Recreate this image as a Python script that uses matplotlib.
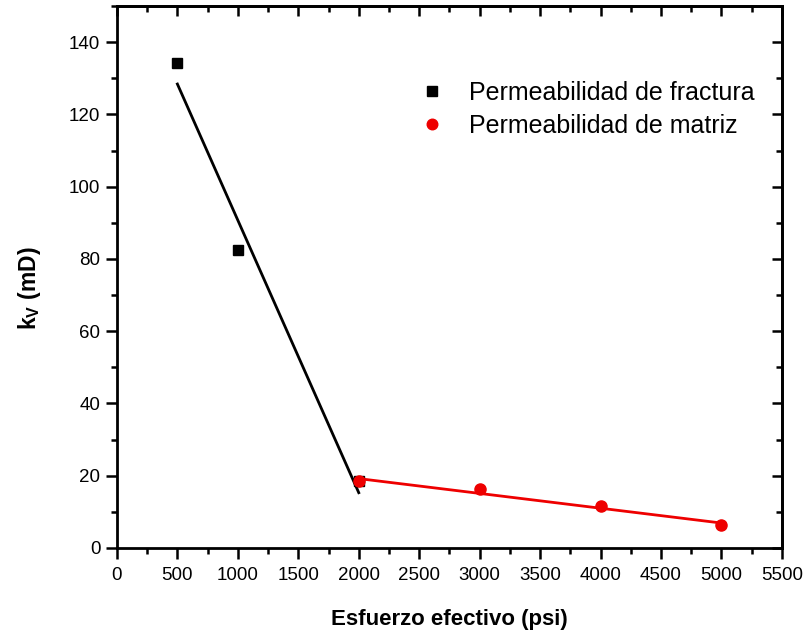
import numpy as np
import matplotlib
matplotlib.use("Agg")
import matplotlib.pyplot as plt
from matplotlib.ticker import MultipleLocator

plt.rcParams["font.family"] = ["Liberation Sans", "DejaVu Sans"]
plt.rcParams["mathtext.fontset"] = "custom"
plt.rcParams["mathtext.bf"] = "Liberation Sans:bold"
plt.rcParams["mathtext.rm"] = "Liberation Sans"

# datos
esfuerzo_frac = [500, 1000, 2000]
perm_frac = [134.2, 82.6, 18.4]
esfuerzo_mat = [2000, 3000, 4000, 5000]
perm_mat = [18.4, 16.4, 11.5, 6.3]

# rectas de ajuste (extremos)
ajuste_frac_x = [500, 2000]
ajuste_frac_y = [128.4, 15.3]
ajuste_mat_x = [2000, 5000]
ajuste_mat_y = [19.2, 6.9]

fig = plt.figure(figsize=(8.12, 6.36), dpi=100)
ax = fig.add_axes([0.144, 0.1384, 0.819, 0.8522])

ax.plot(ajuste_frac_x, ajuste_frac_y, color="black", lw=2.0, zorder=2)
ax.plot(esfuerzo_frac, perm_frac, "s", color="black", ms=7.5, ls="none",
        label="Permeabilidad de fractura", zorder=3)
ax.plot(ajuste_mat_x, ajuste_mat_y, color="#ee0000", lw=2.0, zorder=4)
ax.plot(esfuerzo_mat, perm_mat, "o", color="#ee0000", ms=8, ls="none",
        label="Permeabilidad de matriz", zorder=5)

ax.set_xlim(0, 5500)
ax.set_ylim(0, 150)
ax.xaxis.set_major_locator(MultipleLocator(500))
ax.xaxis.set_minor_locator(MultipleLocator(250))
ax.set_yticks(np.arange(0, 141, 20))
ax.yaxis.set_minor_locator(MultipleLocator(10))

for s in ax.spines.values():
    s.set_linewidth(2.0)

ax.tick_params(which="major", direction="out", length=8, width=1.8,
               labelsize=13.5, pad=4)
ax.tick_params(axis="x", which="major", pad=6)
ax.tick_params(which="minor", direction="out", length=4.5, width=1.8)

# marcas hacia adentro arriba y a la derecha
top = ax.secondary_xaxis("top")
top.xaxis.set_major_locator(MultipleLocator(500))
top.xaxis.set_minor_locator(MultipleLocator(250))
top.tick_params(which="major", direction="in", length=7.5, width=1.8, labeltop=False)
top.tick_params(which="minor", direction="in", length=4, width=1.8)
top.spines["top"].set_linewidth(2.0)
right = ax.secondary_yaxis("right")
right.yaxis.set_major_locator(MultipleLocator(20))
right.yaxis.set_minor_locator(MultipleLocator(10))
right.tick_params(which="major", direction="in", length=7.5, width=1.8, labelright=False)
right.tick_params(which="minor", direction="in", length=4, width=1.8)
right.spines["right"].set_linewidth(2.0)

ax.set_xlabel("Esfuerzo efectivo (psi)", fontsize=16, fontweight="bold", labelpad=18)
ax.set_ylabel(r"$\mathbf{k_V}$ (mD)", fontsize=16.5, fontweight="bold")
ax.yaxis.set_label_coords(-0.111, 0.479)

ax.legend(loc="upper left", bbox_to_anchor=(0.455, 0.862), frameon=False,
          fontsize=18, handletextpad=0.98, labelspacing=0.36, markerscale=0.95,
          handlelength=1.0, borderpad=0, borderaxespad=0)

fig.savefig("out.png", dpi=100)
